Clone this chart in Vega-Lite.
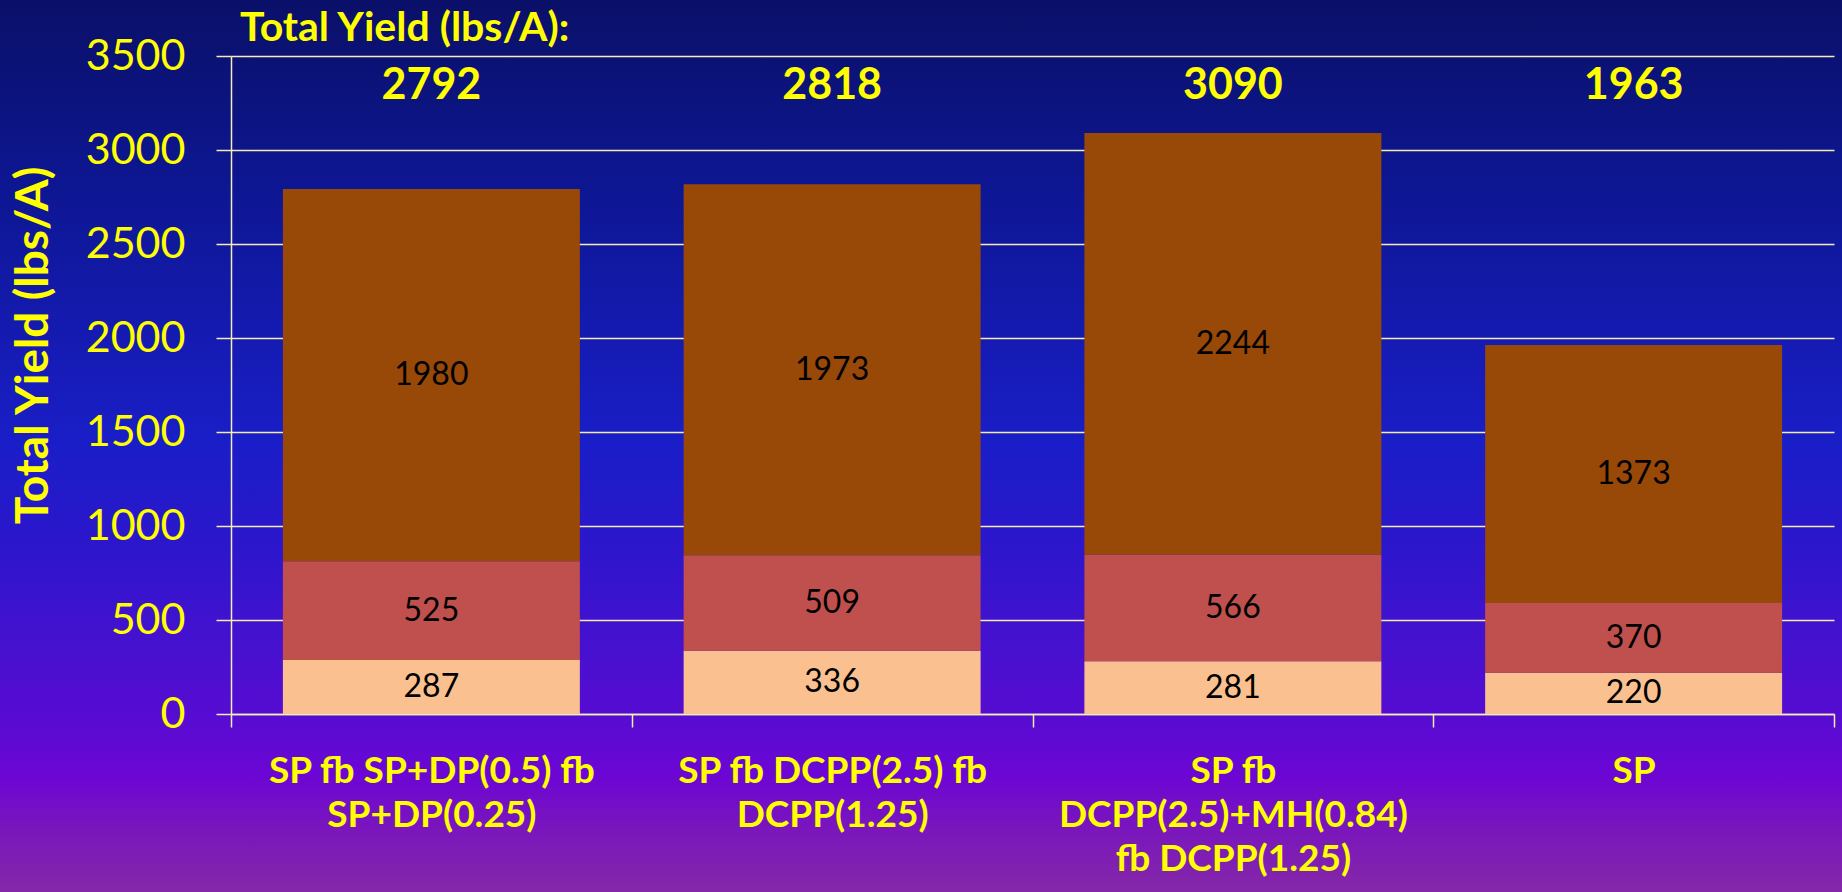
{
  "$schema": "https://vega.github.io/schema/vega-lite/v6.json",
  "width": 1842,
  "height": 892,
  "autosize": {"type": "none"},
  "padding": 0,
  "background": "#3a14c8",
  "view": {
    "stroke": null,
    "fill": {
      "gradient": "linear",
      "x1": 0, "y1": 0, "x2": 0, "y2": 1,
      "stops": [
        {"offset": 0, "color": "#0a1068"},
        {"offset": 0.2, "color": "#0d1690"},
        {"offset": 0.5, "color": "#1a1ec8"},
        {"offset": 0.62, "color": "#2e16cc"},
        {"offset": 0.74, "color": "#4a10d0"},
        {"offset": 0.8, "color": "#560cd2"},
        {"offset": 0.87, "color": "#6c06d4"},
        {"offset": 0.93, "color": "#7a16bc"},
        {"offset": 1, "color": "#8428a8"}
      ]
    }
  },
  "title": {
    "text": "Total Yield (lbs/A):",
    "orient": "top",
    "anchor": "start",
    "frame": "group",
    "dx": 240,
    "offset": -50,
    "font": "Lato",
    "fontSize": 41,
    "fontWeight": "bold",
    "color": "#FFFF00"
  },
  "datasets": {
    "segs": [
      {"treatment": "SP fb SP+DP(0.5) fb SP+DP(0.25)", "seg": "S1", "value": 287},
      {"treatment": "SP fb SP+DP(0.5) fb SP+DP(0.25)", "seg": "S2", "value": 525},
      {"treatment": "SP fb SP+DP(0.5) fb SP+DP(0.25)", "seg": "S3", "value": 1980},
      {"treatment": "SP fb DCPP(2.5) fb DCPP(1.25)", "seg": "S1", "value": 336},
      {"treatment": "SP fb DCPP(2.5) fb DCPP(1.25)", "seg": "S2", "value": 509},
      {"treatment": "SP fb DCPP(2.5) fb DCPP(1.25)", "seg": "S3", "value": 1973},
      {"treatment": "SP fb DCPP(2.5)+MH(0.84) fb DCPP(1.25)", "seg": "S1", "value": 281},
      {"treatment": "SP fb DCPP(2.5)+MH(0.84) fb DCPP(1.25)", "seg": "S2", "value": 566},
      {"treatment": "SP fb DCPP(2.5)+MH(0.84) fb DCPP(1.25)", "seg": "S3", "value": 2244},
      {"treatment": "SP", "seg": "S1", "value": 220},
      {"treatment": "SP", "seg": "S2", "value": 370},
      {"treatment": "SP", "seg": "S3", "value": 1373}
    ],
    "totals": [
      {"treatment": "SP fb SP+DP(0.5) fb SP+DP(0.25)", "total": 2792},
      {"treatment": "SP fb DCPP(2.5) fb DCPP(1.25)", "total": 2818},
      {"treatment": "SP fb DCPP(2.5)+MH(0.84) fb DCPP(1.25)", "total": 3090},
      {"treatment": "SP", "total": 1963}
    ]
  },
  "encoding": {
    "x": {
      "field": "treatment",
      "type": "nominal",
      "sort": null,
      "scale": {"type": "band", "range": [231, 1834], "paddingInner": 0, "paddingOuter": 0},
      "axis": {
        "title": null,
        "orient": "bottom",
        "offset": -178,
        "grid": false,
        "domainColor": "#F3EEB8",
        "domainWidth": 1.5,
        "tickColor": "#F3EEB8",
        "tickWidth": 1.5,
        "tickSize": 13,
        "tickBand": "extent",
        "labelAngle": 0,
        "labelColor": "#FFFF00",
        "labelFont": "Lato",
        "labelFontWeight": "bold",
        "labelFontSize": 37,
        "labelPadding": 26,
        "labelBaseline": "top",
        "labelLineHeight": 44,
        "labelLimit": 0,
        "labelExpr": "datum.value == 'SP fb SP+DP(0.5) fb SP+DP(0.25)' ? ['SP fb SP+DP(0.5) fb', 'SP+DP(0.25)'] : datum.value == 'SP fb DCPP(2.5) fb DCPP(1.25)' ? ['SP fb DCPP(2.5) fb', 'DCPP(1.25)'] : datum.value == 'SP fb DCPP(2.5)+MH(0.84) fb DCPP(1.25)' ? ['SP fb', 'DCPP(2.5)+MH(0.84)', 'fb DCPP(1.25)'] : datum.value"
      }
    }
  },
  "layer": [
    {
      "data": {"name": "segs"},
      "mark": {"type": "bar", "width": {"band": 0.741}},
      "encoding": {
        "y": {
          "field": "value",
          "type": "quantitative",
          "stack": "zero",
          "scale": {"domain": [0, 3500], "range": [714, 56], "nice": false, "zero": true},
          "axis": {
            "title": "Total Yield (lbs/A)",
            "values": [0, 500, 1000, 1500, 2000, 2500, 3000, 3500],
            "format": "d",
            "offset": -231,
            "grid": true,
            "gridColor": "#F3EEB8",
            "gridWidth": 1.5,
            "domainColor": "#F3EEB8",
            "domainWidth": 1.5,
            "tickColor": "#F3EEB8",
            "tickWidth": 1.5,
            "tickSize": 15,
            "labelColor": "#FFFF00",
            "labelFont": "Lato",
            "labelFontSize": 43,
            "labelPadding": 31,
            "labelFlush": false,
            "labelOverlap": false,
            "titleColor": "#FFFF00",
            "titleFont": "Lato",
            "titleFontSize": 46,
            "titleFontWeight": "bold",
            "titleX": -198,
            "titleY": 345,
            "titleAngle": -90,
            "titleAlign": "center",
            "titleBaseline": "middle"
          }
        },
        "color": {
          "field": "seg",
          "type": "nominal",
          "scale": {"domain": ["S1", "S2", "S3"], "range": ["#FAC090", "#C0504D", "#984807"]},
          "legend": null
        },
        "order": {"field": "seg", "type": "ordinal", "sort": "ascending"}
      }
    },
    {
      "data": {"name": "segs"},
      "mark": {"type": "text", "font": "Lato", "fontSize": 32, "color": "#000000", "baseline": "middle", "align": "center"},
      "encoding": {
        "y": {"field": "value", "type": "quantitative", "stack": "zero", "bandPosition": 0.5},
        "detail": {"field": "seg"},
        "order": {"field": "seg", "type": "ordinal", "sort": "ascending"},
        "text": {"field": "value", "type": "quantitative", "format": "d"}
      }
    },
    {
      "data": {"name": "totals"},
      "mark": {"type": "text", "font": "Lato", "fontSize": 43, "fontWeight": "bold", "color": "#FFFF00", "baseline": "middle", "align": "center"},
      "encoding": {
        "y": {"datum": 3340, "type": "quantitative"},
        "text": {"field": "total", "type": "quantitative", "format": "d"}
      }
    }
  ]
}
